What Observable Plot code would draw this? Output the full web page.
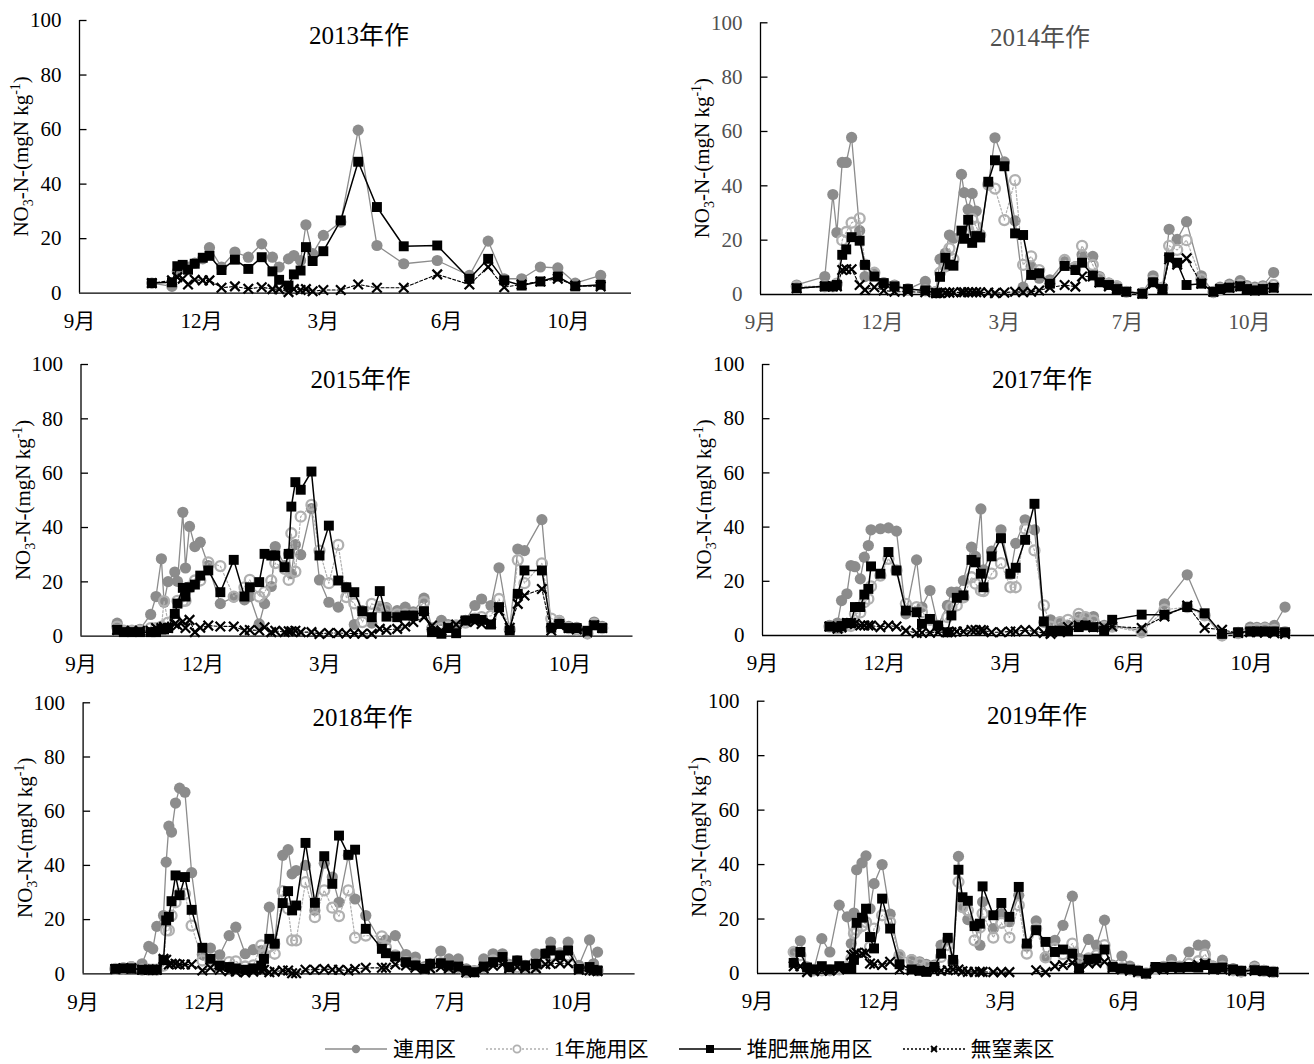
<!DOCTYPE html>
<html><head><meta charset="utf-8">
<script src="https://cdn.jsdelivr.net/npm/d3@7"></script>
<script src="https://cdn.jsdelivr.net/npm/@observablehq/plot@0.6"></script>
<style>
body{margin:0;background:#fff;}
#root{position:relative;width:1314px;height:1064px;background:#fff;overflow:hidden;font-family:"Liberation Serif","Noto Sans CJK JP",serif;}
.panel{position:absolute;}
#legend{position:absolute;left:325px;top:1037px;height:24px;line-height:24px;display:flex;align-items:center;font-size:21px;color:#000;white-space:nowrap;}
#legend .item{display:flex;align-items:center;margin-right:30px;height:24px;}
#legend span{line-height:24px;display:inline-block;height:24px;}
#legend svg{margin-right:6px;}
</style></head>
<body><div id="root"><div id="legend"></div></div>
<script>
// ---- shared axis values ----
const yTicks = [0, 20, 40, 60, 80, 100];
const xTickDays = [0, 91, 182, 274, 365];
const seriesNames = ["連用区", "1年施用区", "堆肥無施用区", "無窒素区"];

// ---- 2013年作 ----
const days2013 = [54,69,73,77,81,86,92,97,106,116,126,136,144,149,156,160,165,169,174,182,195,208,222,242,267,291,305,317,330,344,357,370,389];
const renyo2013 = [3.7,2.5,8,10,9.6,11,12.6,16.7,9.6,15.1,13.2,18.1,13.2,9.6,12.6,13.8,12.0,25.1,14.5,21.2,26.1,59.8,17.5,10.8,12.0,6.5,19.1,5.3,5.3,9.6,9.3,3.7,6.5];
const taihi2013 = [3.7,4.0,9.9,10.4,8.6,10.8,13.0,13.7,8.5,12.3,8.9,13.2,8.0,4.9,2.8,6.9,8.3,16.9,11.8,15.4,26.7,48.2,31.6,17.2,17.5,5.3,12.6,4.7,2.8,4.3,6.1,2.5,3.1];
const muchisso2013 = [3.7,4.7,5.9,5.3,3.2,4.9,4.7,4.7,2.0,2.5,1.6,2.2,1.5,1.5,0.4,1.5,1.2,1.5,0.7,1.2,1.2,3.2,2.0,2.0,6.9,3.2,9.6,2.2,3.2,4.3,5.3,2.8,2.5];
const months2013 = ["9月","12月","3月","6月","10月"];

// ---- 2014年作 ----
const days2014 = [27,48,54,57,61,64,68,74,78,85,92,100,110,123,131,134,138,141,144,150,152,155,158,161,164,170,175,182,190,196,202,208,216,227,235,240,248,253,260,266,273,285,293,300,305,311,318,329,338,343,350,358,363,369,375,383];
const renyo2014 = [3.5,6.6,36.8,22.8,48.6,48.6,57.8,23.5,6.6,7.5,4.4,3.5,2.0,4.8,1,13,15.2,21.9,20.7,44.2,37.5,31.3,37.2,30.7,22,40.3,57.7,48.8,27.1,2.7,10.3,6,5.4,12.1,10.3,14.6,14.0,6.6,4.2,3.2,1.1,0.5,6.9,2.3,24.0,20.3,26.8,6.9,0.7,2.7,3.8,5.1,3.3,2.7,3.2,8.1];
const ichinen2014 = [3,3,3,4,20,23,26.4,28,11,8,4,3,2,1.5,1,8,10.3,17,13,21.5,22.5,24,27.7,25,21.9,40.5,39,27.4,42.1,10.9,14,9,4,12.7,10,17.9,10.9,6,4,3,1,0.5,5,2.5,17.9,16.4,20,5.6,1,2,3,3.5,2.5,2,2.5,3.5];
const taihi2014 = [2.3,3,3,3.5,14.6,16.6,21.1,19.8,10.9,6.6,4.2,3,2,1.5,0.5,6.5,13.5,11,10.6,23.5,20.5,27.5,19,21.5,21,41.5,49.4,47.2,22.5,21.9,7.2,7.8,4,10.5,9,11.7,7,4.5,3.5,2,1,0.3,4.5,2,13.7,11.7,3.5,4,1,2,2.5,3,2,1.5,2,2.5];
const muchisso2014 = [2.3,3,3,3,9,9.3,9.3,3.5,1.7,2.7,1.5,1,1,0.8,0.5,0.5,0.7,0.7,0.8,0.8,0.8,0.8,0.8,0.8,0.8,0.7,0.5,0.7,1,0.8,1,1.5,2.5,3.5,2.9,6.6,6.6,4.4,3,2,1,0.3,4,2,13,11,13.3,4,1,2,2.5,3,2,1.5,2,2.5];
const months2014 = ["9月","12月","3月","7月","10月"];

// ---- 2015年作 ----
const days2015 = [27,32,38,44,52,56,60,62,65,70,72,76,78,81,85,89,95,104,114,122,126,133,137,142,145,152,155,157,160,164,172,178,185,192,198,204,210,217,223,228,236,242,248,256,262,269,274,280,287,294,299,306,312,320,326,331,344,351,357,364,370,378,383,389];
const renyo2015 = [4.8,2.1,2.1,2.5,8,14.6,28.5,12.5,20.1,23.6,20.2,45.6,25.1,40.4,33,34.6,26,12,14.4,13.4,14.6,4.5,12,18.3,33,26,30.3,23,33.7,30,47,20.7,12.5,10.7,18,4.3,9.4,4.8,11,10.5,9.4,10.7,9,14,3.1,5.8,4.3,3.9,5.8,11.3,13.7,11.3,25.2,2.3,32.1,31.5,42.9,3.1,5.8,3.6,3.3,1.7,5.2,3.6];
const ichinen2015 = [3.5,2,2,2,3,3,3.5,12.9,5,6.5,13,12.9,13,18,20.5,20.5,27.2,25.8,14.6,18,20.7,14.6,16.2,20.5,26.9,24.8,20.7,37.9,23.8,44,48.3,31.5,19.5,33.6,14.4,12.1,5.2,11.9,10.7,10,8,8,8,12.5,2.5,3,3.5,4,5,6.5,7,7.5,13.7,2.5,28,19.5,26.8,6.5,5.5,3,2.5,1,4.5,3];
const taihi2015 = [2.3,1.5,1.5,1.5,1.5,1.5,2.5,2.5,3,8.2,12,17.8,14.6,18,19,22.3,24.2,16.2,28.1,14.6,18,19.9,30.3,29.7,29.7,25.4,30.3,47.7,56.7,53.9,60.6,29.7,40.7,20.5,18,16.2,9.2,7,16.6,7.2,7,7.6,7.6,9.2,1.5,0.9,3,1.1,5.8,6.4,6,4.3,10.7,2.1,15.6,24.2,24.2,3.1,4.5,3,3,2,4,3];
const muchisso2015 = [2.3,2,2,2,2,3,3,3.5,3,4.5,4,5.4,3,6,1.5,3.1,3.9,3.6,3.6,2.1,2.3,2.1,3.3,1.5,2,1.5,1.8,1.8,2,1.5,1.5,0.8,1.2,1.2,1,1,0.9,0.9,2.7,2.3,2.7,3.6,5.2,7,3.9,2.1,3.5,4.3,5.5,5.2,4.5,4.8,9.4,3.1,11.9,15,17.4,2.1,4,3,2.5,1.5,4,3];
const months2015 = ["9月","12月","3月","6月","10月"];

// ---- 2017年作 ----
const days2017 = [50,56,59,63,66,69,73,76,79,81,88,94,100,107,115,119,125,131,138,141,145,150,156,159,163,165,171,178,185,189,196,203,210,215,222,228,236,241,247,255,261,283,300,317,330,343,355,364,369,375,382,390];
const renyo2017 = [3.7,4.6,12.9,15.4,25.8,25.4,20.9,28.9,33.2,39,39.4,39.7,38.5,8,27.9,10.5,16.6,3.7,11.1,16,16,20.3,32.6,29.2,46.7,24.2,31.1,39,22.6,34,42.7,39,4.9,5.8,4.9,3.7,6.8,6.8,7,3.7,3.7,1.8,11.7,22.4,7.4,0,1.2,3.1,3,3.1,3.7,10.5];
const ichinen2017 = [3.3,2.5,3,3.7,3.5,8,8.5,12.3,13.5,18.1,22.1,28.3,24,11.7,10.5,8.6,5.8,2.8,6.8,10.5,11.1,14.1,21.5,19.1,16.6,16.4,22.8,26.7,17.8,17.8,39.4,31.4,11.1,3.3,4.9,5.8,8,6.8,5.5,3.1,3.3,1.2,9.5,10.5,7.4,0,0.9,2.1,2.3,2.5,2.1,1.2];
const taihi2017 = [3.3,3,3.5,4.6,4.5,10.5,10.5,15.1,17.2,25.5,22.8,30.8,24,9.2,8.6,4.3,6.1,3.7,1.2,7.4,13.9,14.8,27.9,27,22.8,17.8,29.2,35.9,22.8,25,35.3,48.6,5.2,1.8,1.8,1.6,3.1,3.7,3.1,1.8,5.8,7.7,7.7,10.5,8.2,0.6,1.2,1.5,1.5,1.5,1.5,1.2];
const muchisso2017 = [3.3,2.5,3,4.6,4.6,4.3,3.7,3.7,3.7,3.7,3.1,3.7,3.3,1.8,0.9,1,1,1.2,1.2,1.2,1.5,1.5,2,2,2,1.8,1.2,1.2,1.5,1.5,2,1.5,0.9,0.6,1.2,3.1,3.7,3.7,3.1,3.1,3.3,2.8,7,11.1,2.8,2.1,0.9,1.2,1.2,1,0.8,0.6];
const months2017 = ["9月","12月","3月","6月","10月"];

// ---- 2018年作 ----
const days2018 = [24,30,36,44,49,52,55,60,62,64,66,69,72,76,81,89,95,102,109,114,121,127,133,135,139,143,149,153,156,159,166,173,180,186,191,198,203,211,223,226,233,241,248,255,259,267,273,280,286,292,299,306,313,318,324,330,338,345,349,356,362,370,378,381,384];
const renyo2018 = [1.8,2.2,2.7,3.7,10.1,9.2,17.5,21.5,41.2,54.5,52.3,63,68.5,67,37.3,7.1,9.5,7,14.1,17.2,7.4,8.9,8.6,6.8,24.6,11.1,43.7,45.8,36.9,38.1,40,23.4,40.8,35.7,26.4,43.7,27.6,21.5,11.1,12.5,14.1,7.1,6.2,2.7,3.7,8.4,5.5,5.5,1.8,1.2,5.5,7.4,7.4,3.5,4.9,3.1,7.4,7.5,11.7,7.4,11.7,3.1,12.5,3.7,8];
const ichinen2018 = [1.8,2,2.5,1.5,1.5,1.5,1.5,3,16,16,21.5,26.4,29.5,29.5,17.8,4.9,4.9,3.1,4.3,4.6,2.7,3.1,10.5,6.8,10,7.4,30.5,24,12.3,12.3,33.8,20.9,30.8,24.4,21.3,30.8,13.3,14.1,13.8,9.8,6.8,4.3,3.7,1.8,3.1,3.9,2.7,2.5,0.6,0.8,2.5,4.9,5.2,2.5,2.5,2.5,2.7,5.2,6.8,7.6,6.8,1.8,1.5,1.5,1.2];
const taihi2018 = [1.8,2,2,1.5,1.5,1.5,1.5,5,19.7,21,26.8,36.3,29,35.7,23.6,9.6,5.5,3,2.5,2,1.5,2,3,5.5,12.9,11.1,26.1,30.5,23.4,25.2,48.3,26.2,43.4,33.2,51,43.9,45.8,16.6,9.2,7.6,6.4,4.3,3.1,1.8,3.7,3.9,3.1,2.7,1.2,0.6,2.7,4.3,6.2,2.5,4.9,3.1,3.7,7.4,8.6,6.8,8.6,1.8,2.5,1.5,1.2];
const muchisso2018 = [1.8,2,2,1.5,1.5,1.5,1.5,5.5,5.2,3.4,3.7,3.7,3.4,3.4,3.4,1.2,2.2,1.5,1,0.8,0.5,0.8,1.2,1.5,0.6,0.8,1.2,1.2,0.2,0.2,1.5,1.5,1.8,1.5,1.5,1.2,1.8,2.2,2.2,2.2,3.4,3.1,2.2,1.8,2,2.5,2,2,0.5,0.6,2,3,3.5,2,2.5,2,2,3.5,3.7,3.9,3.9,1.5,1.2,1.2,1];
const months2018 = ["9月","12月","3月","7月","10月"];

// ---- 2019年作 ----
const days2019 = [27,32,37,42,48,54,61,67,70,72,74,78,81,84,87,93,99,106,115,121,126,132,137,142,146,150,153,157,162,166,168,176,182,188,195,201,208,215,222,228,235,240,247,253,259,265,272,278,284,290,297,303,309,315,322,329,334,340,347,355,361,371,378,385];
const renyo2019 = [7.9,12,2.4,1.5,12.8,7.9,25.1,20.8,11,22.2,38.1,40.6,43.2,23.8,33,40,21.8,6.7,5.1,4.3,3.4,3.1,10.4,12.5,4,43,24.4,19.8,17.7,10.4,26.3,16.5,22,19,28.7,10,19.3,6.1,12.2,17.7,28.4,5.5,12.5,10.4,19.6,3.1,6.4,2.7,1.2,0,2.2,2.4,5.1,2.4,7.9,10.4,10.4,2.7,4.9,1.8,0.6,2.7,1.2,0.6];
const ichinen2019 = [7.9,6.7,2,1.2,1.2,1.2,1.5,2.4,5.5,14.7,16.1,17.4,18.9,9.8,16.5,21.4,18.9,6.7,4.9,3.7,2.7,2.4,6.1,10.4,4.3,33.6,24.4,23.2,12.2,16.9,22,13.2,18.6,13.2,25.1,7.3,16.5,5.9,9.2,7.1,11,3.9,5.5,6.7,10.4,2.4,2,1.5,0.8,0,2,2.4,2.7,2.5,3.5,4.5,7,2.5,2.5,1.2,0.8,2,1,0.6];
const taihi2019 = [3.9,7.9,2.2,1.5,2.7,1.5,2.7,2,2,5,18.6,20.5,23.8,13.4,9.2,27.5,16.5,3.4,1.5,1,0.6,2.4,7.3,13.1,5,38.1,28,26.7,17.4,18.3,32,21.4,25.9,20.8,31.8,11,15.9,11.6,7.9,8.8,7.3,1.8,5.1,5.5,8.8,2.4,1.8,1.5,1,0,2.4,2.2,2.4,2.2,2.4,2.2,3.1,2,2.2,1.5,1,1.2,1,0.6];
const muchisso2019 = [2.7,2.7,0.5,0.8,1,1,1.5,2,6.7,7.1,7.6,7.3,7.6,3.7,3.4,3.1,4.3,1.5,1.2,1,0.8,1,1,1.2,1.5,1.5,0.8,0.6,0.6,0.6,0.6,0.5,0.5,0.5,null,null,1.2,0.5,2.7,3.1,3.9,2.2,3.7,3.9,4.3,2,1.5,1,0.5,0,1.5,1.5,2,2,2.5,3.1,3.7,1.5,1.5,1,0.8,1,0.8,0.5];
const months2019 = ["9月","12月","3月","6月","10月"];

// ---- styles ----
const C_RENYO = "#8c8c8c", C_ICHI = "#b0b0b0";
const fontFam = '"Liberation Serif","Noto Sans CJK JP",serif';

const panels = [
  {year:"2013", days:days2013, renyo:renyo2013, ichinen:null, taihi:taihi2013, muchisso:muchisso2013, months:months2013, left:0, top:0, ml:79, mt:20, mb:47.3, color:"#000"},
  {year:"2014", days:days2014, renyo:renyo2014, ichinen:ichinen2014, taihi:taihi2014, muchisso:muchisso2014, months:months2014, left:657, top:0, ml:103, mt:22.3, mb:46, color:"#505050"},
  {year:"2015", days:days2015, renyo:renyo2015, ichinen:ichinen2015, taihi:taihi2015, muchisso:muchisso2015, months:months2015, left:0, top:340, ml:80.5, mt:24, mb:44.3, color:"#000"},
  {year:"2017", days:days2017, renyo:renyo2017, ichinen:ichinen2017, taihi:taihi2017, muchisso:muchisso2017, months:months2017, left:657, top:340, ml:105, mt:24, mb:45, color:"#000"},
  {year:"2018", days:days2018, renyo:renyo2018, ichinen:ichinen2018, taihi:taihi2018, muchisso:muchisso2018, months:months2018, left:0, top:680, ml:82.6, mt:22.3, mb:46.7, color:"#000"},
  {year:"2019", days:days2019, renyo:renyo2019, ichinen:ichinen2019, taihi:taihi2019, muchisso:muchisso2019, months:months2019, left:657, top:680, ml:100, mt:20.7, mb:47, color:"#000"}
];

const tickSym = {draw(ctx){ ctx.moveTo(0,0); ctx.lineTo(7,0); }};
const root = document.getElementById("root");

for (const cfg of panels) {
  const rows = cfg.days.map((d,i)=>({d, renyo: cfg.renyo[i], ichinen: cfg.ichinen ? cfg.ichinen[i] : null, taihi: cfg.taihi[i], muchisso: cfg.muchisso[i]}));
  const tickMap = new Map(xTickDays.map((t,i)=>[t, cfg.months[i]]));
  const marks = [
    Plot.ruleY([0], {stroke:"#000", strokeWidth:1.3}),
    Plot.ruleX([0], {y1:0, y2:100, stroke:"#000", strokeWidth:1.3}),
    Plot.dot(yTicks.filter(t=>t>0), {x:()=>0, y:d=>d, symbol:tickSym, stroke:"#000", strokeWidth:1.3, fill:"none", r:3}),
    Plot.axisY({ticks:yTicks, tickSize:0, tickPadding:18, fontSize:21, label:null, fill:cfg.color}),
    Plot.axisX({ticks:xTickDays, tickFormat:d=>tickMap.get(d), tickSize:0, tickPadding:20, fontSize:21, label:null, fill:cfg.color}),
    Plot.line(rows, {x:"d", y:"renyo", stroke:C_RENYO, strokeWidth:1.3}),
    Plot.dot(rows, {x:"d", y:"renyo", fill:C_RENYO, r:5.6})
  ];
  if (cfg.ichinen) {
    marks.push(
      Plot.line(rows, {x:"d", y:"ichinen", stroke:C_ICHI, strokeWidth:1.2, strokeDasharray:"2,2"}),
      Plot.dot(rows, {x:"d", y:"ichinen", stroke:C_ICHI, strokeWidth:2.3, fill:"none", r:5})
    );
  }
  marks.push(
    Plot.line(rows, {x:"d", y:"taihi", stroke:"#000", strokeWidth:1.5}),
    Plot.dot(rows, {x:"d", y:"taihi", fill:"#000", symbol:"square", r:5.6}),
    Plot.line(rows, {x:"d", y:"muchisso", stroke:"#000", strokeWidth:1.1, strokeDasharray:"3,2"}),
    Plot.dot(rows, {x:"d", y:"muchisso", stroke:"#000", strokeWidth:2.2, symbol:"times", r:4.4})
  );
  const svg = Plot.plot({
    width:657, height:340,
    marginLeft:cfg.ml, marginRight:Math.max(0, 657-cfg.ml-552), marginTop:cfg.mt, marginBottom:cfg.mb,
    x:{domain:[0,412]}, y:{domain:[0,100]},
    style:{fontFamily:fontFam, fontSize:"21px", background:"transparent", overflow:"visible", color:"#000"},
    marks
  });
  const s = d3.select(svg);
  s.append("text").attr("x", cfg.ml + 280).attr("y", cfg.mt + 23.5)
    .attr("text-anchor","middle").attr("font-size",25).attr("fill",cfg.color)
    .text(cfg.year + "年作");
  const cy = cfg.mt + (340 - cfg.mt - cfg.mb) / 2;
  const t = s.append("text").attr("transform",`translate(${cfg.ml - 51},${cy}) rotate(-90)`)
    .attr("text-anchor","middle").attr("font-size",21).attr("fill","#000");
  t.append("tspan").text("NO");
  t.append("tspan").attr("dy",5).attr("font-size",14).text("3");
  t.append("tspan").attr("dy",-5).text("-N-(mgN kg");
  t.append("tspan").attr("dy",-8).attr("font-size",14).text("-1");
  t.append("tspan").attr("dy",8).text(")");
  svg.classList.add("panel");
  svg.style.left = cfg.left + "px";
  svg.style.top = cfg.top + "px";
  svg.style.position = "absolute";
  root.appendChild(svg);
}

// ---- legend ----
const legend = document.getElementById("legend");
const legendDefs = [
  {name:seriesNames[0], stroke:C_RENYO, dash:null, marker:(g)=>g.append("circle").attr("cx",31).attr("cy",10).attr("r",4.2).attr("fill",C_RENYO)},
  {name:seriesNames[1], stroke:C_ICHI, dash:"2,2", marker:(g)=>g.append("circle").attr("cx",31).attr("cy",10).attr("r",3.6).attr("fill","#fff").attr("stroke",C_ICHI).attr("stroke-width",1.8)},
  {name:seriesNames[2], stroke:"#000", dash:null, marker:(g)=>g.append("rect").attr("x",27).attr("y",6).attr("width",8).attr("height",8).attr("fill","#000")},
  {name:seriesNames[3], stroke:"#000", dash:"2,2", marker:(g)=>g.append("path").attr("d","M28,7L34,13M34,7L28,13").attr("stroke","#000").attr("stroke-width",1.8)}
];
for (const L of legendDefs) {
  const item = document.createElement("div");
  item.className = "item";
  const sv = d3.create("svg").attr("width",62).attr("height",20);
  const ln = sv.append("line").attr("x1",0).attr("x2",62).attr("y1",10).attr("y2",10).attr("stroke",L.stroke).attr("stroke-width",1.6);
  if (L.dash) ln.attr("stroke-dasharray",L.dash);
  L.marker(sv);
  item.appendChild(sv.node());
  const sp = document.createElement("span");
  sp.textContent = L.name;
  item.appendChild(sp);
  legend.appendChild(item);
}
</script>
</body></html>
